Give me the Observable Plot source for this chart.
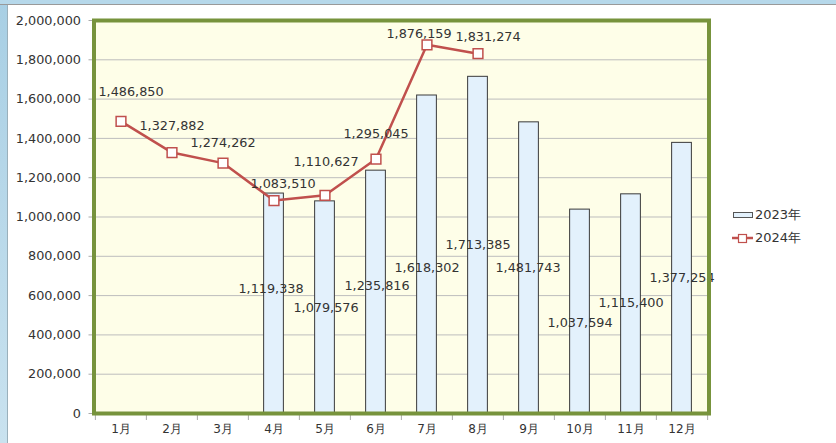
<!DOCTYPE html>
<html>
<head>
<meta charset="utf-8">
<script src="https://cdn.jsdelivr.net/npm/d3@7"></script>
<script src="https://cdn.jsdelivr.net/npm/@observablehq/plot@0.6"></script>
<style>
  body { margin: 0; background: #fff; }
  #wrap { position: relative; width: 836px; height: 443px; overflow: hidden; background: #fff; font-family: "DejaVu Sans", sans-serif; }
  #wrap svg.plot-root { position: absolute; left: 0; top: 0; }
  .stripL { position: absolute; left: 0; top: 0; width: 7px; height: 443px; background: linear-gradient(#a8cfe4, #c9e2ef); border-right: 1px solid #9ab0bb; }
  .stripT { position: absolute; left: 0; top: 0; width: 836px; height: 4px; background: #b6d8ea; border-bottom: 1px solid #999; }
  #legend { position: absolute; left: 732px; top: 203px; font-size: 13px; color: #333; line-height: 23px; }
  #legend div { display: flex; align-items: center; height: 23px; }
  #legend svg { margin-right: 1px; }
</style>
</head>
<body>
<div id="wrap"></div>
<script>
const months = ["1月","2月","3月","4月","5月","6月","7月","8月","9月","10月","11月","12月"];
const sales2023 = [null, null, null, 1119338, 1079576, 1235816, 1618302, 1713385, 1481743, 1037594, 1115400, 1377254];
const sales2024 = [1486850, 1327882, 1274262, 1083510, 1110627, 1295045, 1876159, 1831274, null, null, null, null];
const yTicks = [0, 200000, 400000, 600000, 800000, 1000000, 1200000, 1400000, 1600000, 1800000, 2000000];
const seriesNames = ["2023年", "2024年"];

// label placement nudges (pixels), as the labels were hand-placed in the original chart
const barLabelDx = [0, 0, 0, -3, 1, 1, 0, 0, -1, 0, 0, 0];
const barLabelDy = [0, 0, 0, -15, 0, -6, 13, 0, 0, 11, -1, 0];
const lineLabelDx = [10, 0, 0, 9, 1, 0, -8, 10, 0, 0, 0, 0];
const lineLabelDy = [-29, -27, -20, -17, -33, -25, -11, -17, 0, 0, 0, 0];

const bars = months.map((m, i) => ({month: m, value: sales2023[i], dx: barLabelDx[i], dy: barLabelDy[i]})).filter(d => d.value != null);
const line = months.map((m, i) => ({month: m, value: sales2024[i], dx: lineLabelDx[i], dy: lineLabelDy[i]})).filter(d => d.value != null);

const W = 836, H = 443, mL = 93.5, mR = 127.5, mT = 20, mB = 30;
const bw = (W - mL - mR) / months.length;
const barW = 20;
const fmt = d3.format(",");
const red = "#c0504d";

const labelMarks = (data, yFn) => data.map(d =>
  Plot.text([d], {x: "month", y: yFn, text: v => fmt(v.value), dx: d.dx, dy: d.dy, fill: "#333"})
);

const chart = Plot.plot({
  width: W, height: H,
  marginLeft: mL, marginRight: mR, marginTop: mT, marginBottom: mB,
  style: {fontFamily: "'DejaVu Sans', sans-serif", fontSize: "12.8px", color: "#333", background: "transparent"},
  x: {type: "band", domain: months, padding: 0, label: null},
  y: {domain: [0, 2000000], label: null},
  marks: [
    Plot.frame({fill: "#fefee8", stroke: null}),
    Plot.gridY(yTicks, {stroke: "#bdbdbd", strokeOpacity: 1, strokeWidth: 1}),
    Plot.axisY(yTicks, {tickSize: 5, tickPadding: 8, tickFormat: fmt, label: null, stroke: "#aaa", fill: "#333"}),
    Plot.axisX({tickSize: 0, tickPadding: 11, label: null, fill: "#333", fontSize: 12}),
    Plot.ruleX(months, {x: d => d, dx: -bw / 2, insetTop: H - mT - mB, insetBottom: -7, stroke: "#aaa"}),
    Plot.ruleX([months[months.length - 1]], {x: d => d, dx: bw / 2, insetTop: H - mT - mB, insetBottom: -7, stroke: "#aaa"}),
    Plot.barY(bars, {x: "month", y: "value", fill: "#e3f1fc", stroke: "#3a3a3a", strokeWidth: 1,
      insetLeft: (bw - barW) / 2, insetRight: (bw - barW) / 2}),
    ...labelMarks(bars, v => v.value / 2),
    Plot.line(line, {x: "month", y: "value", stroke: red, strokeWidth: 2.5}),
    Plot.dot(line, {x: "month", y: "value", symbol: "square", r: 5.5, fill: "white", stroke: red, strokeWidth: 1.5}),
    ...labelMarks(line, v => v.value),
    Plot.frame({stroke: "#77933c", strokeWidth: 4})
  ]
});
chart.classList.add("plot-root");

const wrap = document.getElementById("wrap");
wrap.appendChild(chart);
const sl = document.createElement("div"); sl.className = "stripL"; wrap.appendChild(sl);
const st = document.createElement("div"); st.className = "stripT"; wrap.appendChild(st);

const legend = document.createElement("div");
legend.id = "legend";
legend.innerHTML =
  `<div><svg width="22" height="10"><rect x="1.5" y="2.5" width="19" height="5" fill="#e3f1fc" stroke="#555"/></svg>${seriesNames[0]}</div>` +
  `<div><svg width="22" height="12"><line x1="0" x2="21" y1="6" y2="6" stroke="${red}" stroke-width="2.5"/><rect x="6.5" y="2.5" width="8" height="8" fill="white" stroke="${red}" stroke-width="1.2"/></svg>${seriesNames[1]}</div>`;
wrap.appendChild(legend);
</script>
</body>
</html>
